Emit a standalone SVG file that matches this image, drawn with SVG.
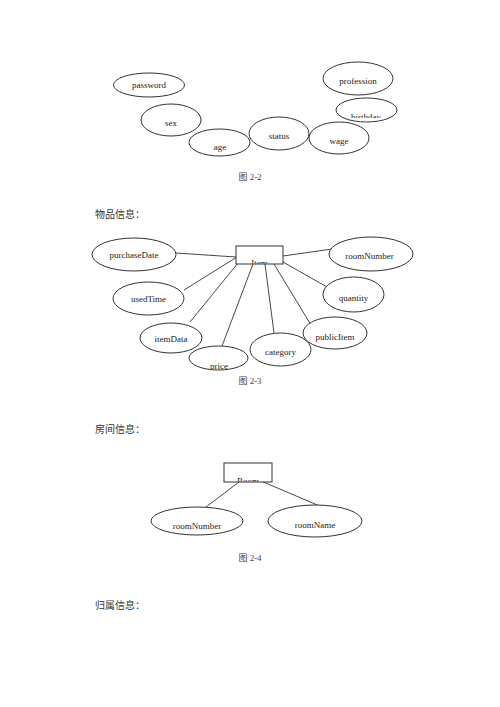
<svg xmlns="http://www.w3.org/2000/svg" width="500" height="707" viewBox="0 0 500 707">
<style>
.n ellipse,.n rect{fill:#fff;stroke:#333;stroke-width:1}
.n text{font-family:"Liberation Serif","Noto Sans CJK SC",serif;font-size:9px;fill:#222;text-anchor:middle}
.cap{font-family:"Liberation Serif","Noto Sans CJK SC",serif;font-size:9px;fill:#444;text-anchor:middle}
.h{font-family:"Noto Sans CJK SC",sans-serif;font-size:10px;fill:#333}
#conn line{stroke:#333;stroke-width:0.9}
</style>
<defs>
<clipPath id="cb"><rect x="330" y="100" width="70" height="18"/></clipPath>
<clipPath id="cp"><rect x="190" y="346" width="60" height="23"/></clipPath>
<clipPath id="ci"><rect x="236" y="246" width="47" height="17.5"/></clipPath>
<clipPath id="cr"><rect x="224" y="463" width="48" height="18.5"/></clipPath>
</defs>
<rect width="500" height="707" fill="#fff"/>

<g id="password" class="n"><ellipse cx="149" cy="85" rx="35.5" ry="12"/><text x="149" y="87.5">password</text></g>
<g id="sex" class="n"><ellipse cx="171" cy="120" rx="30" ry="16"/><text x="171" y="126">sex</text></g>
<g id="age" class="n"><ellipse cx="219.5" cy="142.5" rx="30.5" ry="13.5"/><text x="220" y="150">age</text></g>
<g id="status" class="n"><ellipse cx="279" cy="133.5" rx="30" ry="16.5"/><text x="279" y="139">status</text></g>
<g id="wage" class="n"><ellipse cx="339" cy="138" rx="30" ry="16"/><text x="339" y="144">wage</text></g>
<g id="profession" class="n"><ellipse cx="358" cy="78.5" rx="35" ry="16.5"/><text x="358" y="84">profession</text></g>
<g id="birthday" class="n"><ellipse cx="366.5" cy="110" rx="30.5" ry="12"/><text x="366" y="119.5" clip-path="url(#cb)">birthday</text></g>
<text class="cap" x="250" y="180">图 2-2</text>

<text class="h" x="95" y="218">物品信息：</text>

<g id="conn">
<line x1="176" y1="253" x2="236" y2="257"/>
<line x1="184" y1="290" x2="237" y2="257"/>
<line x1="190" y1="322" x2="238" y2="263"/>
<line x1="222" y1="346" x2="253" y2="264"/>
<line x1="265" y1="264" x2="274" y2="333"/>
<line x1="274" y1="264" x2="311" y2="325"/>
<line x1="283" y1="262" x2="327" y2="287"/>
<line x1="283" y1="256" x2="332" y2="249"/>
<line x1="239" y1="482" x2="206" y2="507"/>
<line x1="261" y1="481" x2="322" y2="507"/>
</g>

<g id="item" class="n"><rect x="236" y="246" width="47" height="18"/><text x="259.5" y="266" clip-path="url(#ci)">Item</text></g>
<g id="purchaseDate" class="n"><ellipse cx="134" cy="254.5" rx="42" ry="16.5"/><text x="134" y="258">purchaseDate</text></g>
<g id="usedTime" class="n"><ellipse cx="148.5" cy="298.5" rx="35.5" ry="16.5"/><text x="148.5" y="302">usedTime</text></g>
<g id="itemData" class="n"><ellipse cx="171" cy="338" rx="31" ry="15"/><text x="171" y="342">itemData</text></g>
<g id="price" class="n"><ellipse cx="218.5" cy="358" rx="29.5" ry="12"/><text x="219" y="368.5" clip-path="url(#cp)">price</text></g>
<g id="category" class="n"><ellipse cx="280.5" cy="349.5" rx="30.5" ry="16.5"/><text x="280.5" y="355">category</text></g>
<g id="publicItem" class="n"><ellipse cx="335" cy="333" rx="32" ry="16"/><text x="335" y="340">publicItem</text></g>
<g id="quantity" class="n"><ellipse cx="353.5" cy="294.5" rx="30.5" ry="17.5"/><text x="353.5" y="301">quantity</text></g>
<g id="roomNumber1" class="n"><ellipse cx="371" cy="254" rx="42" ry="17"/><text x="369.5" y="259">roomNumber</text></g>
<text class="cap" x="250" y="384">图 2-3</text>

<text class="h" x="95" y="433">房间信息：</text>

<g id="room" class="n"><rect x="224" y="463" width="48" height="19"/><text x="248" y="484" clip-path="url(#cr)">Room</text></g>
<g id="roomNumber2" class="n"><ellipse cx="197" cy="521" rx="46" ry="14"/><text x="197" y="529">roomNumber</text></g>
<g id="roomName" class="n"><ellipse cx="315" cy="521" rx="47" ry="16"/><text x="315" y="528">roomName</text></g>
<text class="cap" x="250" y="561">图 2-4</text>

<text class="h" x="95" y="609">归属信息：</text>
</svg>
